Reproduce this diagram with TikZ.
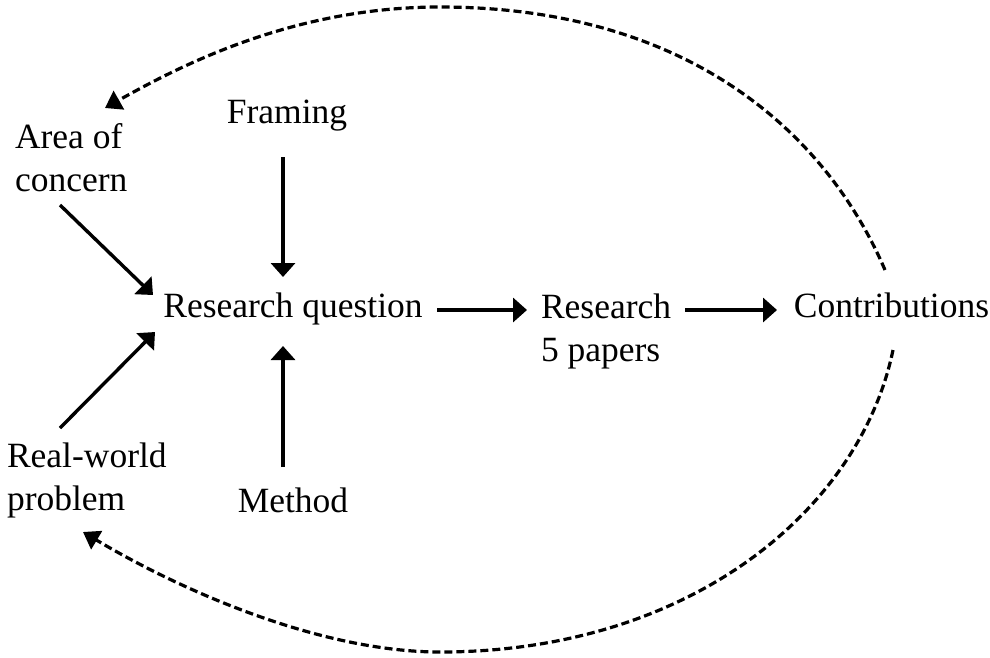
\documentclass[tikz,border=0pt]{standalone}
\usepackage{fontspec}
\setmainfont{Liberation Serif}
\usetikzlibrary{arrows.meta}
\begin{document}
\begin{tikzpicture}[x=1pt,y=-1pt,
  lbl/.style={inner sep=0pt,outer sep=0pt,font=\fontsize{35.5}{43}\selectfont},
  lblml/.style={lbl,align=left,anchor=north west},
  arr/.style={line width=3.4pt,-{Triangle[length=14pt,width=24pt]}},
  loop/.style={line width=3.2pt,dash pattern=on 8pt off 4pt,-{Triangle[length=16pt,width=21pt]}}]
\useasboundingbox (0,0) rectangle (990,657);

% labels
\node[lbl,anchor=base] (framing) at (287,123) {Framing};
\node[lblml] (area) at (15,123) {Area of\\concern};
\node[lbl,anchor=base] (rq) at (293,317) {Research question};
\node[lblml] (res) at (541,294) {Research\\5 papers};
\node[lbl,anchor=base] (contrib) at (891.5,317) {Contributions};
\node[lblml] (real) at (7,443) {Real-world\\problem};
\node[lbl,anchor=base] (method) at (293,512) {Method};

% inputs into the research question
\draw[arr] ([shift={(-4,34)}]framing.base) -- ([shift={(-10,-40)}]rq.base);
\draw[arr] ([shift={(-10,-45)}]method.base) -- ([shift={(-10,29)}]rq.base);
\draw[arr] ([shift={(45,82)}]area.north west) -- ([shift={(-140,-22)}]rq.base);
\draw[arr] ([shift={(53,-15)}]real.north west) -- ([shift={(-138,15)}]rq.base);

% main flow
\draw[arr] ([shift={(144,-7)}]rq.base) -- ([shift={(-14,16)}]res.north west);
\draw[arr] ([shift={(144,16)}]res.north west) -- ([shift={(-114.5,-7)}]contrib.base);

% feedback loops
\draw[loop] ([shift={(-6.5,-47)}]contrib.base)
  .. controls (825,130) and (685,7) .. (440,7)
  .. controls (300,7) and (190,60) .. ([shift={(90,-15)}]area.north west);
\draw[loop] ([shift={(1.5,33)}]contrib.base)
  .. controls (860,510) and (690,652) .. (440,652)
  .. controls (320,652) and (180,590) .. ([shift={(76,89)}]real.north west);
\end{tikzpicture}
\end{document}
